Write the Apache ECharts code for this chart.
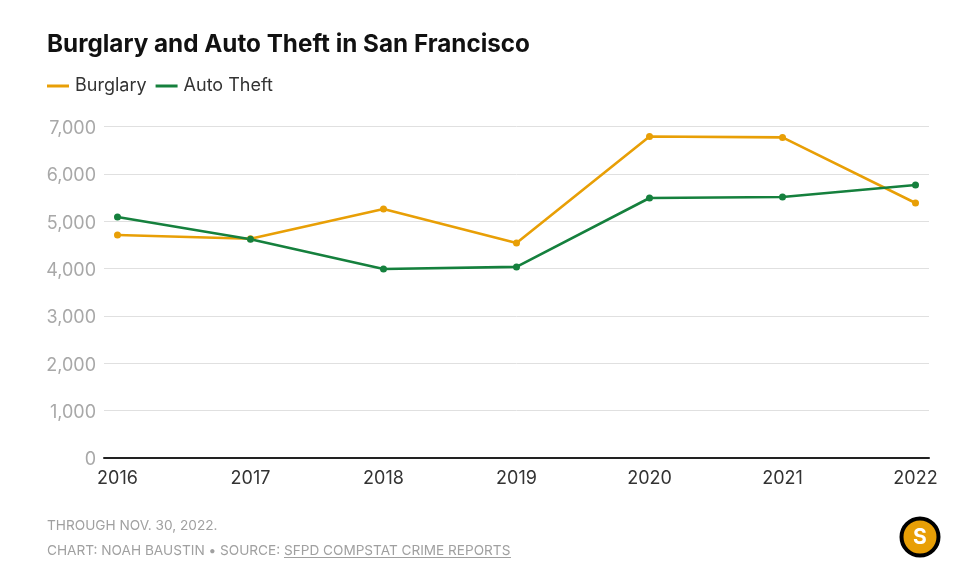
<!DOCTYPE html>
<html><head><meta charset="utf-8">
<style>html,body{margin:0;padding:0;background:#fff}#c{width:980px;height:581px}</style>
<script src="https://cdn.jsdelivr.net/npm/echarts@6/dist/echarts.min.js"></script>
</head><body><div id="c"></div>
<script>
const years = [2016, 2017, 2018, 2019, 2020, 2021, 2022];
const burglary = [4710, 4630, 5260, 4540, 6790, 6770, 5385];
const autoTheft = [5090, 4620, 3990, 4035, 5490, 5510, 5765];
const titleText = 'Burglary and Auto Theft in San Francisco';
const noteText = 'THROUGH NOV. 30, 2022.';
const creditText = 'CHART: NOAH BAUSTIN • SOURCE: ';
const linkText = 'SFPD COMPSTAT CRIME REPORTS';
const F = 'Inter';
const chart = echarts.init(document.getElementById('c'), null, {renderer:'canvas'});
const pair = a => a.map((v,i)=>[years[i],v]);
const mk = (name,data,color)=>({name,type:'line',data:pair(data),symbol:'circle',symbolSize:7,showSymbol:true,
  lineStyle:{color,width:2.6},itemStyle:{color,borderWidth:0},emphasis:{disabled:true},animation:false,z:3});
chart.setOption({
  animation:false,
  textStyle:{fontFamily:F},
  grid:{left:104,right:51,top:126.5,bottom:123,containLabel:false},
  legend:{left:42,top:72,itemGap:9,itemWidth:22,itemHeight:3,icon:'rect',selectedMode:false,
    textStyle:{fontFamily:F,fontSize:18,color:'#333',padding:[0,0,0,1]},
    data:['Burglary','Auto Theft']},
  xAxis:{type:'value',min:2015.8985,max:2022.1015,splitLine:{show:false},
    axisLine:{show:true,onZero:false,lineStyle:{color:'#222',width:2}},axisTick:{show:false},
    axisLabel:{customValues:years,formatter:v=>String(v),color:'#333',fontFamily:F,fontSize:18,margin:12}},
  yAxis:{type:'value',min:0,max:7000,interval:1000,
    axisLine:{show:false},axisTick:{show:false},
    splitLine:{show:true,lineStyle:{color:'#e0e0e0',width:1}},
    axisLabel:{fontFamily:F,margin:8,formatter:v=>'{a|'+v.toLocaleString('en-US')+'}',
      rich:{a:{color:'#a8a8a8',fontFamily:F,fontSize:18,padding:[4,0,0,0]}}}},
  series:[mk('Burglary',burglary,'#E89F06'),mk('Auto Theft',autoTheft,'#15803D')],
  graphic:[
    {type:'text',left:47,top:33,style:{text:titleText,fontFamily:F,fontSize:24.25,fontWeight:700,fill:'#111'}},
    {type:'text',left:47,top:519,style:{text:noteText,fontFamily:F,fontSize:13.65,fill:'#a0a0a0'}},
    {type:'text',left:47,top:544,style:{text:creditText,fontFamily:F,fontSize:13.65,fill:'#a0a0a0'}},
    {type:'text',left:284,top:544,style:{text:linkText,fontFamily:F,fontSize:13.6,fill:'#a0a0a0'}},
    {type:'line',shape:{x1:284,y1:557.5,x2:511,y2:557.5},style:{stroke:'#a0a0a0',lineWidth:1}},
    {type:'circle',shape:{cx:920,cy:537,r:18.5},style:{fill:'#E89F06',stroke:'#000',lineWidth:4}},
    {type:'text',x:920,y:537.5,style:{text:'S',fontFamily:F,fontSize:21,fontWeight:700,fill:'#fff',align:'center',verticalAlign:'middle'}}
  ]
});
</script></body></html>
